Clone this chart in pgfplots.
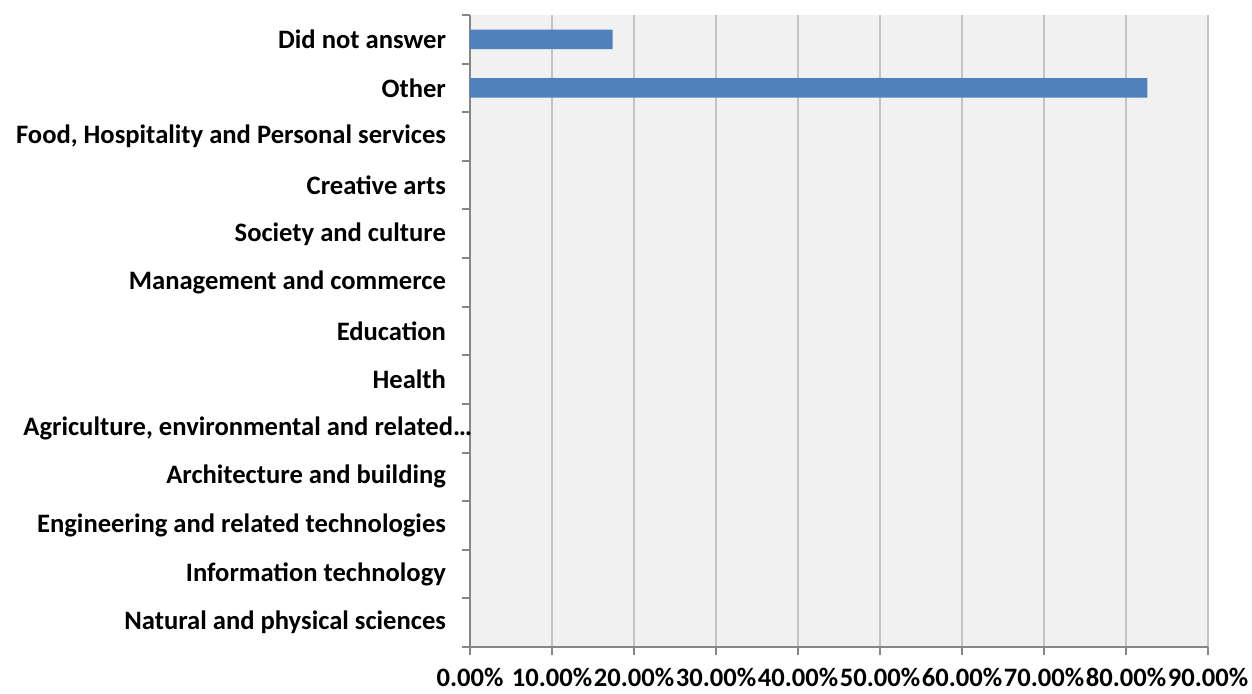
\documentclass[border=0pt]{standalone}
\usepackage{fontspec}
\setmainfont{Carlito}
\usepackage{pgfplots}
\pgfplotsset{compat=1.18}
\definecolor{barblue}{HTML}{4F81BD}
\definecolor{plotbg}{HTML}{F1F1F1}
\definecolor{gridc}{HTML}{C4C4C4}
\definecolor{axisc}{HTML}{868686}
\begin{document}
\begin{tikzpicture}
\begin{axis}[
  at={(235pt,23pt)}, anchor=south west,
  scale only axis, width=369pt, height=316pt,
  xbar, bar width=0.4,
  xmin=0, xmax=90, ymin=-0.5, ymax=12.5,
  axis background/.style={fill=plotbg},
  axis x line*=bottom, axis y line*=left,
  axis line style={axisc, line width=1pt},
  xtick={0,10,...,90},
  xticklabels={0.00\%,10.00\%,20.00\%,30.00\%,40.00\%,50.00\%,60.00\%,70.00\%,80.00\%,90.00\%},
  xmajorgrids, grid style={gridc, line width=1pt},
  ytick={-0.5,0.5,...,12.5},
  yticklabels={},
  extra y ticks={0,...,12},
  extra y tick labels={Natural and physical sciences,Information technology,Engineering and related technologies,Architecture and building,{Agriculture, environmental and related…\hspace*{-13pt}},Health,Education,Management and commerce,Society and culture,Creative arts,{Food, Hospitality and Personal services},Other,Did not answer},
  extra y tick style={major tick length=0pt, yticklabel style={xshift=-8.5pt}},
  tick align=outside,
  major tick length=4pt,
  ytick style={axisc, line width=1pt},
  xtick style={axisc, line width=1pt},
  tick label style={font=\bfseries\fontsize{13.3}{15}\selectfont, black},
  xticklabel style={yshift=-3pt},
  clip=false,
]
\addplot[fill=barblue, draw=none] coordinates {
  (0,0) (0,1) (0,2) (0,3) (0,4) (0,5) (0,6) (0,7) (0,8) (0,9) (0,10) (82.6,11) (17.4,12)
};
\end{axis}
\pgfresetboundingbox
\useasboundingbox (0,0) rectangle (626pt,346.5pt);
\end{tikzpicture}
\end{document}
